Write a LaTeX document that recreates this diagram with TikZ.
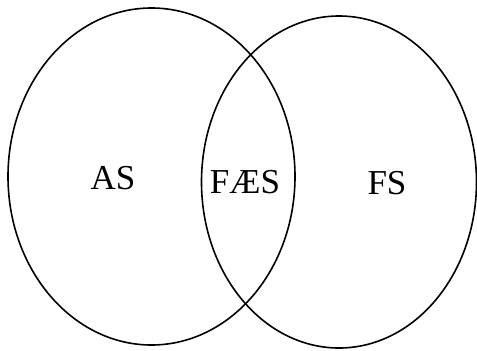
\documentclass[tikz,border=0pt]{standalone}
\usepackage{fontspec}
\setmainfont{Liberation Serif}
\begin{document}
\begin{tikzpicture}[x=1pt,y=-1pt,
  setline/.style={draw=black,line width=1.6pt},
  setlabel/.style={font=\fontsize{35}{38}\selectfont,inner sep=0pt,anchor=center}]
\useasboundingbox (0,0) rectangle (477,351);
\fill[white] (0,0) rectangle (477,351);
\coordinate (cl) at (151.5,176.5);
\coordinate (cr) at (339,182);
\draw[setline] (cl) ellipse [x radius=143.5, y radius=168.5];
\draw[setline] (cr) ellipse [x radius=137.5, y radius=166];
\node[setlabel] (as) at (113,178) {AS};
\node[setlabel] (faes) at (245,182) {FÆS};
\node[setlabel] (fs) at (387,183) {FS};
\end{tikzpicture}
\end{document}
